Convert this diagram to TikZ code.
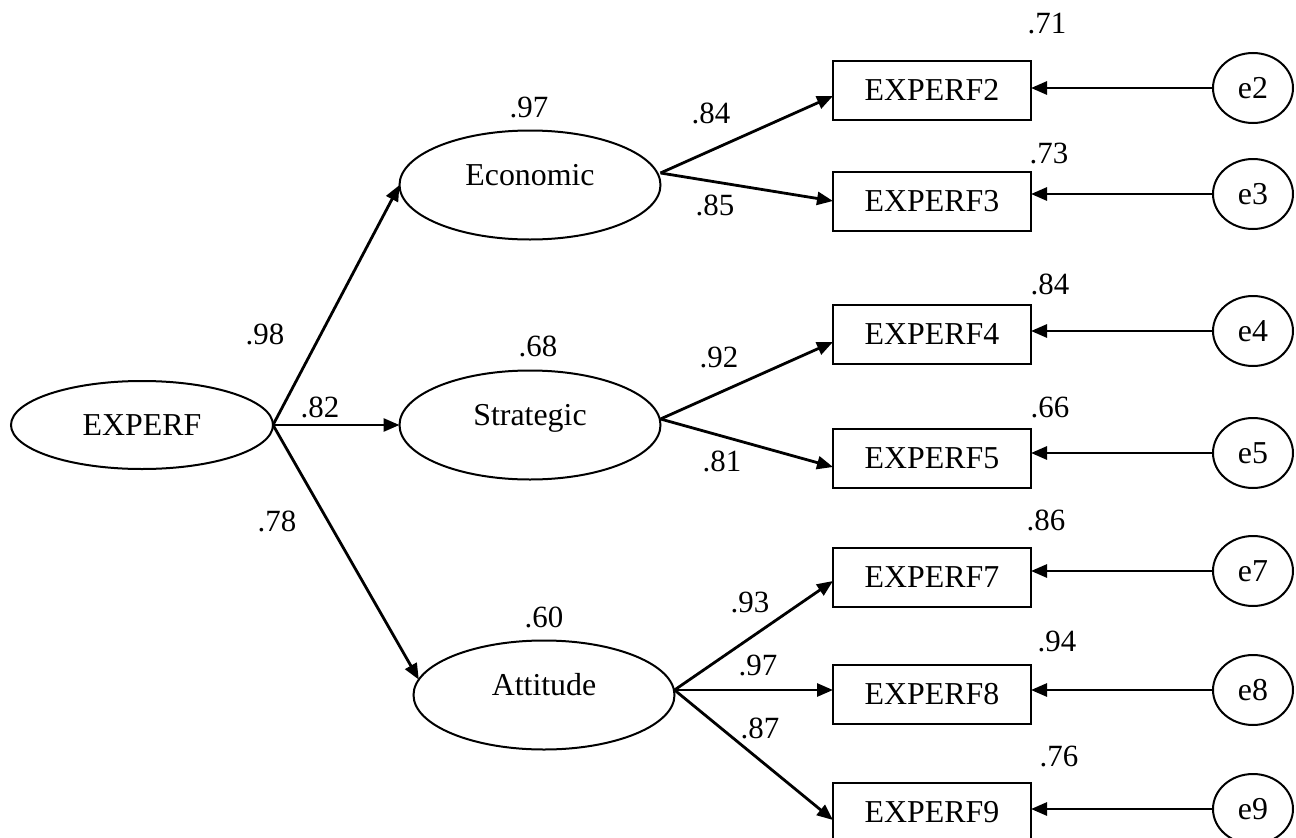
\documentclass[tikz,border=0pt]{standalone}
\usepackage{fontspec}
\setmainfont{Liberation Serif}
\usetikzlibrary{shapes.geometric,arrows.meta,calc}
\begin{document}
\begin{tikzpicture}[x=1bp,y=-1bp,
  namefont/.style={font=\fontsize{32}{36}\selectfont},
  latent/.style={draw,ellipse,line width=2bp,inner sep=0pt,outer sep=0pt,
    minimum width=261bp,minimum height=109bp,namefont},
  obs/.style={draw,rectangle,line width=2bp,inner sep=0pt,outer sep=0pt,
    minimum width=198bp,minimum height=59bp,namefont},
  err/.style={draw,ellipse,line width=2bp,inner sep=0pt,outer sep=0pt,
    minimum width=80bp,minimum height=70bp,namefont},
  path/.style={line width=2.8bp,-{Triangle[length=16bp,width=13bp]}},
  num/.style={inner sep=0pt,font=\fontsize{31}{34}\selectfont}]
\useasboundingbox (0,0) rectangle (1296,838);

% second-order factor
\node[latent,minimum width=262bp,minimum height=88bp] (exp) at (142,425) {EXPERF};

% first-order factors (names sit on the centre line)
\node[latent] (eco) at (530,185) {\smash{Economic}};
\node[latent] (str) at (530,425) {\smash{Strategic}};
\node[latent] (att) at (544,695) {\smash{Attitude}};

% indicators
\node[obs] (b2) at (932,90)  {EXPERF2};
\node[obs] (b3) at (932,201) {EXPERF3};
\node[obs] (b4) at (932,334) {EXPERF4};
\node[obs] (b5) at (932,458) {EXPERF5};
\node[obs] (b7) at (932,577) {EXPERF7};
\node[obs] (b8) at (932,694) {EXPERF8};
\node[obs] (b9) at (932,812) {EXPERF9};

% error terms
\node[err] (e2) at (1253,88)  {e2};
\node[err] (e3) at (1253,194) {e3};
\node[err] (e4) at (1253,331) {e4};
\node[err] (e5) at (1253,453) {e5};
\node[err] (e7) at (1253,571) {e7};
\node[err] (e8) at (1253,690) {e8};
\node[err] (e9) at (1253,809) {e9};

% path origins on the right of each factor
\coordinate (ecoR) at ($(eco.east)+(0,-12)$);
\coordinate (strR) at ($(str.east)+(0,-6)$);
\coordinate (attR) at ($(att.east)+(0,-5)$);

% structural paths
\draw[path] (exp.east) -- (eco.west);
\draw[path] (exp.east) -- (str.west);
\draw[path] (exp.east) -- (att.173);

% loadings
\draw[path] (ecoR) -- ($(b2.west)+(0,6)$);
\draw[path] (ecoR) -- (b3.west);
\draw[path] (strR) -- ($(b4.west)+(0,8)$);
\draw[path] (strR) -- ($(b5.west)+(0,9)$);
\draw[path] (attR) -- ($(b7.west)+(0,4)$);
\draw[path] (attR) -- ($(b8.west)+(0,-4)$);
\draw[path] (attR) -- ($(b9.west)+(0,8)$);

% residual paths
\foreach \i in {2,3,4,5,7,8,9}
  \draw[path] (e\i.west) -- (b\i.east |- e\i.west);

% standardized estimates
\node[num] (r98) at (265,334) {.98};
\node[num] (r82) at (320,407) {.82};
\node[num] (r78) at (277,521) {.78};
\node[num] (q97) at (529,107) {.97};
\node[num] (q68) at (538,346) {.68};
\node[num] (q60) at (544,617) {.60};
\node[num] (l84) at (711,113) {.84};
\node[num] (l85) at (715,205) {.85};
\node[num] (l92) at (719,357) {.92};
\node[num] (l81) at (722,461) {.81};
\node[num] (l93) at (750,602) {.93};
\node[num] (l97) at (758,665) {.97};
\node[num] (l87) at (760,728) {.87};
\node[num] (s2) at (1047,24)  {.71};
\node[num] (s3) at (1049,153) {.73};
\node[num] (s4) at (1050,284) {.84};
\node[num] (s5) at (1050,407) {.66};
\node[num] (s7) at (1046,520) {.86};
\node[num] (s8) at (1057,641) {.94};
\node[num] (s9) at (1059,756) {.76};
\end{tikzpicture}
\end{document}
